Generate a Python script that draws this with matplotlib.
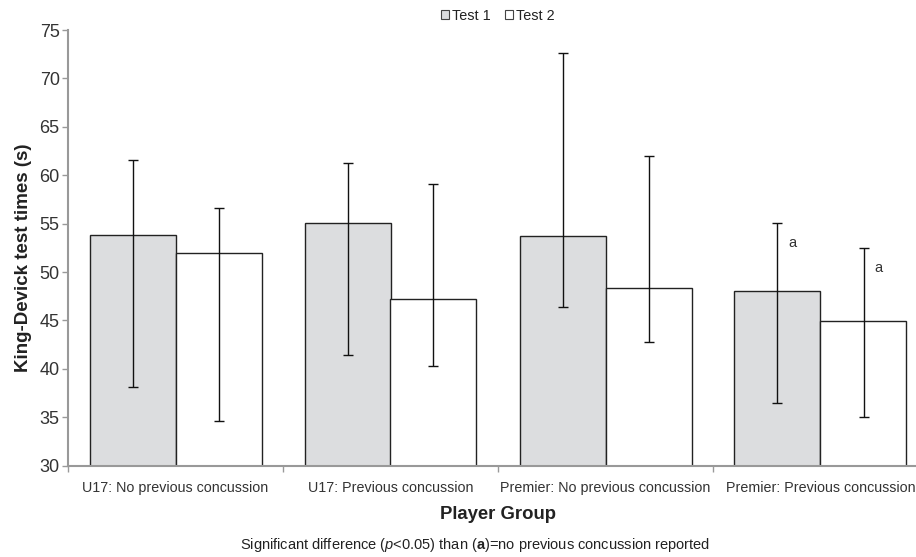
import matplotlib.pyplot as plt
import numpy as np

plt.rcParams['font.family'] = ['Liberation Sans', 'DejaVu Sans']
plt.rcParams['mathtext.fontset'] = 'custom'
plt.rcParams['mathtext.rm'] = 'Liberation Sans'
plt.rcParams['mathtext.it'] = 'Liberation Sans:italic'
plt.rcParams['mathtext.bf'] = 'Liberation Sans:bold'

groups = ["U17: No previous concussion", "U17: Previous concussion",
          "Premier: No previous concussion", "Premier: Previous concussion"]
test1_mean = [53.8, 55.1, 53.7, 48.0]
test1_low = [38.1, 41.4, 46.4, 36.5]
test1_high = [61.6, 61.3, 72.6, 55.1]
test2_mean = [52.0, 47.2, 48.4, 44.9]
test2_low = [34.6, 40.3, 42.8, 35.0]
test2_high = [56.6, 59.1, 62.0, 52.5]
sig_test1 = [False, False, False, True]
sig_test2 = [False, False, False, True]

fig = plt.figure(figsize=(9.16, 5.57), dpi=100)
ax = fig.add_axes([68 / 916, 1 - 465.7 / 557, 860 / 916, 435.7 / 557])

x = np.arange(len(groups))
w = 0.4
grey = '#333333'


def draw(xs, mean, low, high, color, label):
    mean = np.array(mean)
    yerr = [mean - np.array(low), np.array(high) - mean]
    ax.bar(xs, mean - 30, bottom=30, width=w, color=color, edgecolor='#222222',
           linewidth=1.0, label=label, zorder=2)
    ax.errorbar(xs, mean, yerr=yerr, fmt='none', ecolor='#111111',
                elinewidth=1.0, capsize=3.5, capthick=1.0, zorder=3)


draw(x - w / 2, test1_mean, test1_low, test1_high, '#dcdddf', 'Test 1')
draw(x + w / 2, test2_mean, test2_low, test2_high, 'white', 'Test 2')

for i in range(len(groups)):
    if sig_test1[i]:
        ax.text(x[i] - w / 2 + 0.07, test1_high[i] - 2.1, 'a', fontsize=10.5,
                color=grey, ha='center', va='center')
    if sig_test2[i]:
        ax.text(x[i] + w / 2 + 0.07, test2_high[i] - 2.1, 'a', fontsize=10.5,
                color=grey, ha='center', va='center')

ax.set_xlim(-0.5, len(groups) - 0.5)
ax.set_ylim(30, 75)
ax.set_yticks(np.arange(30, 76, 5))
ax.set_xticks(np.arange(-0.5, len(groups), 1.0))
ax.set_xticklabels([])
ax.set_xticks(x, minor=True)
ax.set_xticklabels(groups, minor=True, fontsize=10.3, color=grey)
ax.tick_params(axis='x', which='minor', length=0, pad=11)
ax.tick_params(axis='x', which='major', length=4, color='#999999', width=1)
ax.tick_params(axis='y', length=4, color='#999999', width=1,
               labelsize=13, labelcolor=grey, pad=2)

for s in ['top', 'right']:
    ax.spines[s].set_visible(False)
for s in ['left', 'bottom']:
    ax.spines[s].set_color('#999999')
    ax.spines[s].set_linewidth(1.5)

ax.set_ylabel('King-Devick test times (s)', fontsize=13.5, fontweight='bold',
              color='#222222')
ax.yaxis.set_label_coords(-0.042, 0.477)
ax.set_xlabel('Player Group', fontsize=13.3, fontweight='bold',
              color='#222222', labelpad=8)
fig.text(475 / 916, 1 - 545 / 557,
         r'Significant difference ($\mathit{p}$<0.05) than ($\mathbf{a}$)=no previous concussion reported',
         ha='center', va='center', fontsize=10.5, color='#222222')

leg = fig.legend(*ax.get_legend_handles_labels(), loc='center',
                 bbox_to_anchor=(497.5 / 916, 1 - 15.7 / 557),
                 ncol=2, frameon=False, fontsize=10.4, handlelength=0.55,
                 handleheight=0.55, handletextpad=0.2, columnspacing=1.0,
                 borderaxespad=0, borderpad=0)
for h in leg.legend_handles:
    h.set_edgecolor('#444444')
    h.set_linewidth(0.8)
for t in leg.get_texts():
    t.set_color('#222222')

fig.savefig('out.png', dpi=100)
